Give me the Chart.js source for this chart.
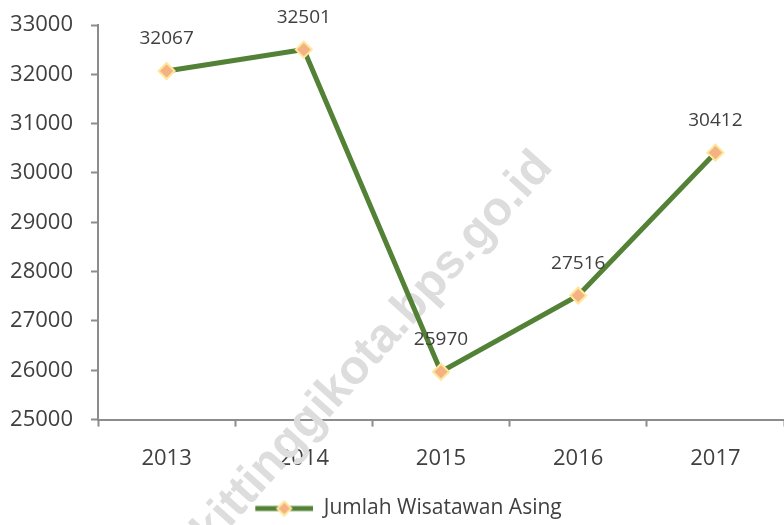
<!DOCTYPE html>
<html>
<head>
<meta charset="utf-8">
<script src="https://cdn.jsdelivr.net/npm/chart.js@4.4.1/dist/chart.umd.min.js"></script>
<style>
  html, body { margin: 0; padding: 0; background: #fff; }
  #wrap { width: 784px; height: 525px; }
</style>
</head>
<body>
<div id="wrap"><canvas id="myChart"></canvas></div>
<script>
const years = ["2013", "2014", "2015", "2016", "2017"];
const wisatawanAsing = [32067, 32501, 25970, 27516, 30412];
const seriesLabel = "Jumlah Wisatawan Asing";

const lineGreen = "#538135";
const markerFill = "#F4B183";
const markerBorder = "#FFE699";
const textColor = "#404040";
const axisColor = "#8C8C8C";
const fontFamily = "'Open Sans', 'DejaVu Sans', sans-serif";

// legend symbol: line with a diamond in the middle (blank space on the left to nudge it right)
const legendIcon = document.createElement("canvas");
legendIcon.width = 88;
legendIcon.height = 18;
(function () {
  const c = legendIcon.getContext("2d");
  c.strokeStyle = lineGreen;
  c.lineWidth = 5;
  c.beginPath();
  c.moveTo(30, 9);
  c.lineTo(88, 9);
  c.stroke();
  c.beginPath();
  c.moveTo(59, 2);
  c.lineTo(66, 9);
  c.lineTo(59, 16);
  c.lineTo(52, 9);
  c.closePath();
  c.fillStyle = markerFill;
  c.fill();
  c.strokeStyle = markerBorder;
  c.lineWidth = 2;
  c.stroke();
})();

const watermark = {
  id: "watermark",
  beforeDatasetsDraw(chart) {
    const ctx = chart.ctx;
    ctx.save();
    ctx.translate(554, 168);
    ctx.rotate(-48 * Math.PI / 180);
    ctx.font = "bold 48px 'Liberation Sans', Arial, sans-serif";
    ctx.fillStyle = "#DDDDDD";
    ctx.textAlign = "right";
    ctx.textBaseline = "alphabetic";
    ctx.fillText("bukittinggikota.bps.go.id", 0, 0);
    ctx.restore();
  }
};

const dataLabels = {
  id: "dataLabels",
  afterDatasetsDraw(chart) {
    const ctx = chart.ctx;
    const meta = chart.getDatasetMeta(0);
    ctx.save();
    ctx.font = "19px " + fontFamily;
    ctx.fillStyle = textColor;
    ctx.textAlign = "center";
    ctx.textBaseline = "middle";
    meta.data.forEach((pt, i) => {
      ctx.fillText(String(chart.data.datasets[0].data[i]), pt.x, pt.y - 32);
    });
    ctx.restore();
  }
};

const ctx = document.getElementById("myChart").getContext("2d");
const myChart = new Chart(ctx, {
  type: "line",
  data: {
    labels: years,
    datasets: [
      {
        label: seriesLabel,
        data: wisatawanAsing,
        borderColor: lineGreen,
        borderWidth: 5,
        tension: 0,
        pointStyle: "rectRot",
        pointRadius: 8,
        pointBackgroundColor: markerFill,
        pointBorderColor: markerBorder,
        pointBorderWidth: 2,
      },
    ],
  },
  options: {
    responsive: true,
    maintainAspectRatio: false,
    animation: false,
    layout: {
      autoPadding: false,
      padding: { top: 25, right: -3, left: 0, bottom: -4 },
    },
    scales: {
      x: {
        offset: true,
        grid: {
          offset: true,
          drawOnChartArea: false,
          tickLength: 7,
          tickColor: axisColor,
          tickWidth: 2,
        },
        border: { color: axisColor, width: 2 },
        ticks: {
          color: textColor,
          font: { size: 22, family: fontFamily },
          padding: 19,
        },
      },
      y: {
        min: 25000,
        max: 33000,
        afterFit(scale) {
          scale.width = 98;
          scale.paddingTop = 0;
          scale.paddingBottom = 0;
        },
        grid: {
          drawOnChartArea: false,
          tickLength: 7,
          tickColor: axisColor,
          tickWidth: 2,
        },
        border: { color: axisColor, width: 2 },
        ticks: {
          stepSize: 1000,
          color: textColor,
          font: { size: 22, family: fontFamily },
          padding: 18,
          callback: (v) => String(v),
        },
      },
    },
    plugins: {
      legend: {
        display: true,
        position: "bottom",
        labels: {
          usePointStyle: true,
          pointStyleWidth: 88,
          color: textColor,
          font: { size: 21, family: fontFamily },
          padding: 7,
          generateLabels(chart) {
            return [{
              text: seriesLabel,
              pointStyle: legendIcon,
              fontColor: textColor,
              lineWidth: 0,
              datasetIndex: 0,
            }];
          },
        },
      },
      tooltip: { enabled: false },
    },
  },
  plugins: [watermark, dataLabels],
});
</script>
</body>
</html>
